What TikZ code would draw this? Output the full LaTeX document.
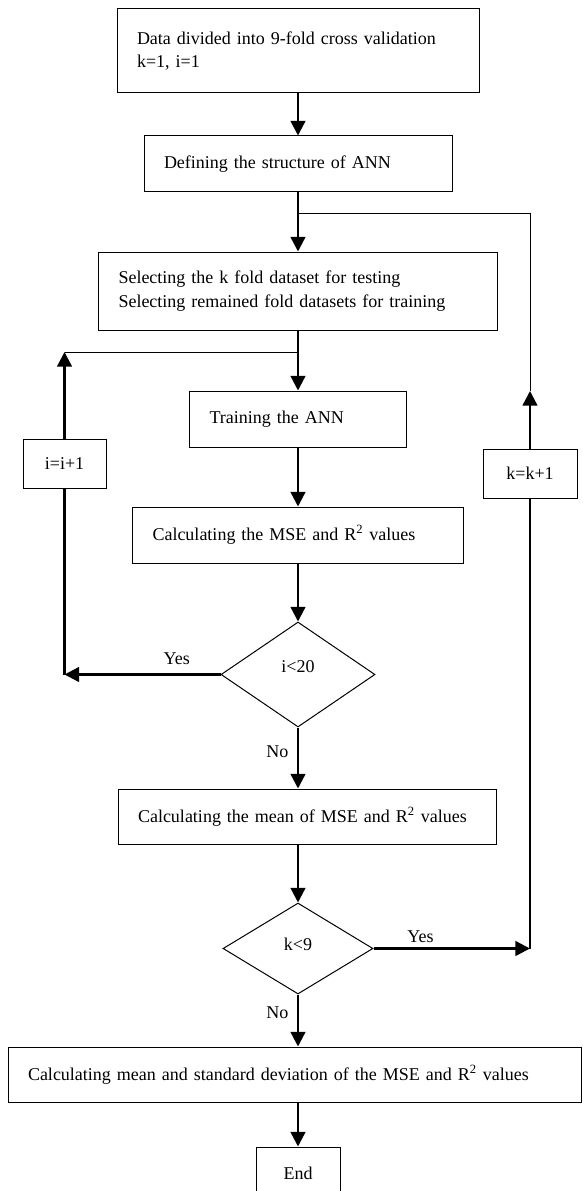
\documentclass[tikz,border=0pt]{standalone}
\usepackage{fontspec}
\setmainfont{Liberation Serif}
\usetikzlibrary{arrows.meta,shapes.geometric}
\begin{document}
\begin{tikzpicture}[x=0.75pt, y=-0.75pt, font=\fontsize{13.5}{17.5}\selectfont,
  box/.style={draw, line width=0.75pt, inner xsep=15pt, inner ysep=0pt, align=left},
  cbox/.style={draw, line width=0.75pt, inner sep=0pt, align=center},
  test/.style={draw, diamond, line width=0.75pt, inner sep=0pt, aspect=1.5, text height=9.5pt},
  arr/.style={line width=1.8pt, -{Triangle[width=11pt, length=11pt]}},
  flow/.style={line width=1.8pt},
  link/.style={line width=0.75pt}]
  \useasboundingbox (0,0) rectangle (582,1191);
  \node[box, text width=241.5pt, minimum height=63pt] (data) at (298,51) {Data divided into 9-fold cross validation\\k=1, i=1};
  \node[box, text width=201pt, minimum height=42pt] (ann) at (298,164) {Defining the structure of ANN};
  \node[box, text width=269.25pt, minimum height=58.5pt] (fold) at (298,291) {Selecting the k fold dataset for testing\\Selecting remained fold datasets for training};
  \node[box, text width=132.75pt, minimum height=42pt] (train) at (298,419) {Training the ANN};
  \node[box, text width=218.25pt, minimum height=42pt] (calc) at (298,535) {Calculating the MSE and R\textsuperscript{2} values};
  \node[test, text depth=12pt, minimum width=115.5pt, minimum height=78.75pt] (testi) at (298,674.5) {i<20};
  \node[box, text width=253.5pt, minimum height=41.25pt] (mean) at (307,816.5) {Calculating the mean of MSE and R\textsuperscript{2} values};
  \node[test, text depth=7pt, minimum width=112.5pt, minimum height=68.25pt] (testk) at (298,948.5) {k<9};
  \node[box, text width=399.75pt, minimum height=41.25pt] (stats) at (294.5,1074.5) {Calculating mean and standard deviation of the MSE and R\textsuperscript{2} values};
  \node[cbox, minimum width=63pt, minimum height=39pt] (end) at (298,1173) {End};
  \node[cbox, minimum width=62.25pt, minimum height=36.75pt] (inci) at (64.5,463.5) {i=i+1};
  \node[cbox, minimum width=70.5pt, minimum height=36.75pt] (inck) at (530,473.5) {k=k+1};
  \coordinate (kjoin) at (298,214); \coordinate (ijoin) at (298,352); \coordinate (ktop) at (530,391);
  \draw[arr] (data) -- (ann);
  \draw[arr] (ann) -- (fold);
  \draw[arr] (fold) -- (train);
  \draw[arr] (train) -- (calc);
  \draw[arr] (calc) -- (testi);
  \draw[arr] (testi.south) -- (testi.south |- mean.north) node[pos=.4, left=3pt] (noi) {No};
  \draw[arr] (mean.south -| testk) -- (testk.north);
  \draw[arr] (testk.south) -- (testk.south |- stats.north) node[pos=.35, left=3pt] (nok) {No};
  \draw[arr] (stats.south -| end) -- (end);
  \draw[arr] (testi.west) -- (testi.west -| inci.south) node[pos=.28, above=3pt] (yesi) {Yes};
  \draw[flow] (testi.west -| inci.south) -- (inci.south);
  \draw[arr] (inci.north) -- (inci.north |- ijoin);
  \draw[link] (inci.north |- ijoin) -- (ijoin);
  \draw[arr] (testk.east) -- (testk.east -| inck.south) node[pos=.3, above] (yesk) {Yes};
  \draw[flow] (testk.east -| inck.south) -- (inck.south);
  \draw[arr] (inck.north) -- (ktop);
  \draw[link] (ktop) |- (kjoin);
\end{tikzpicture}
\end{document}
